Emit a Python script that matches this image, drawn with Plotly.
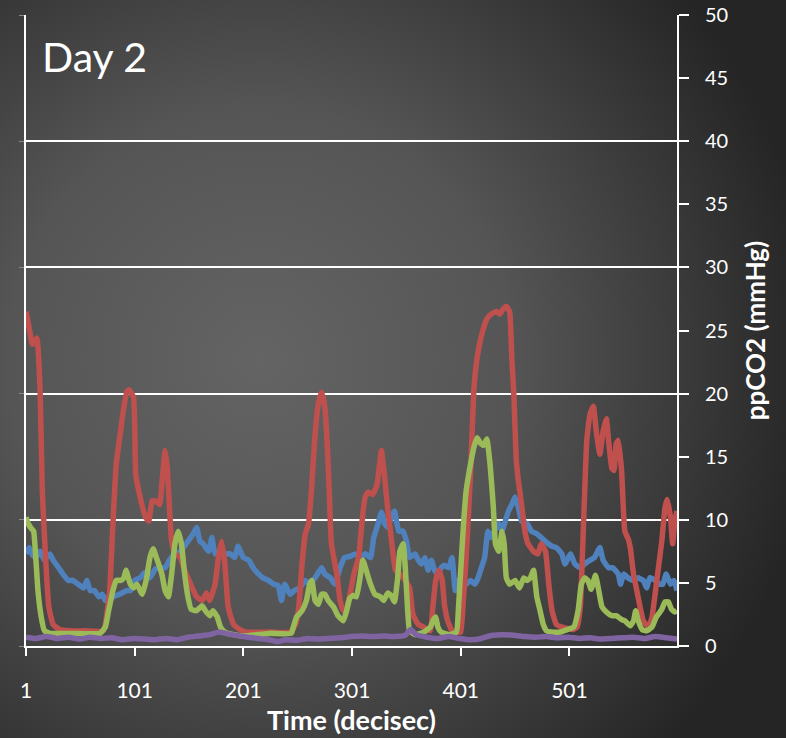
import plotly.graph_objects as go

# ---- data ----
red_t = [1,5,7,11,14,16,19,22,26,32,41,55,72,74,78,81,84,88,91,94,96,100,102,106,111,114,117,120,124,126,129,131,133,135,138,143,146,150,155,158,163,167,170,175,178,181,184,187,192,198,204,225,244,249,252,255,258,261,264,267,270,273,276,278,280,282,287,290,293,296,300,303,307,310,313,316,320,324,327,328,331,334,337,341,345,350,354,357,362,367,373,375,378,381,384,386,389,393,397,401,403,406,410,413,416,419,422,425,429,434,437,440,443,446,448,450,452,454,457,460,463,468,472,475,479,482,485,489,494,499,504,508,511,514,517,520,523,526,529,532,535,537,540,542,544,546,549,552,555,557,560,563,566,569,574,577,581,586,589,591,594,596,598,600]
red_v = [26.5,24.7,23.9,24.4,20.2,12.3,7.0,3.1,1.7,1.3,1.2,1.2,1.2,1.7,4.4,9.7,14.4,17.0,18.9,20.2,20.3,19.7,13.6,11.8,10.2,9.9,11.5,11.5,11.2,12.8,15.5,14.1,11.0,8.3,7.3,7.0,6.2,5.4,4.4,3.9,3.6,4.2,3.6,4.9,7.0,8.3,6.5,3.1,1.7,1.3,1.1,1.1,1.1,1.7,3.1,6.5,8.9,9.7,12.8,16.8,19.2,20.1,18.9,16.3,12.3,8.1,5.7,3.6,2.8,3.0,4.5,5.8,7.0,9.7,11.8,12.2,12.0,12.8,14.9,15.5,13.4,10.7,8.6,6.0,5.7,5.2,4.6,2.5,1.7,1.5,1.2,2.8,5.2,6.0,5.2,3.3,2.0,1.2,1.1,1.1,3.1,7.0,13.6,20.2,22.8,24.2,25.2,25.9,26.3,26.5,26.3,26.7,26.9,26.5,22.8,19.7,14.9,13.1,11.2,9.1,8.1,7.5,7.3,8.1,7.5,4.9,2.8,1.7,1.5,1.4,1.3,1.5,3.1,9.7,16.3,18.4,19.0,16.8,15.2,17.0,18.0,16.3,14.1,13.9,16.0,16.3,13.9,9.1,8.5,7.8,5.7,4.4,3.1,2.0,1.5,2.3,4.9,8.3,11.0,11.6,10.2,8.1,9.9,10.7]

blue_t = [1,4,7,10,14,18,23,26,31,35,40,44,49,54,57,60,64,68,71,74,77,81,87,94,97,101,106,110,115,120,124,129,133,138,143,146,150,155,158,161,164,169,172,175,180,184,189,193,196,201,206,210,215,219,224,229,233,236,239,244,248,253,258,262,267,273,276,281,285,290,294,299,304,308,313,318,321,325,328,331,334,337,340,344,348,351,354,359,362,365,368,371,374,377,380,383,386,390,393,396,399,402,406,410,414,417,420,423,426,429,432,436,439,442,445,448,451,454,457,462,466,471,475,480,485,489,494,497,502,506,511,515,520,524,529,532,537,541,546,548,551,555,560,564,569,572,575,580,584,587,590,594,597,600]
blue_v = [7.3,7.8,7.2,7.0,7.5,6.8,7.3,6.8,6.2,5.7,5.2,5.2,4.9,4.6,5.2,4.4,4.4,3.9,4.1,3.6,3.9,3.9,4.1,4.4,4.4,5.2,5.4,5.8,5.4,6.1,6.2,6.2,6.8,7.3,7.5,7.8,8.3,8.9,9.4,8.3,8.1,7.5,8.6,7.3,7.5,7.3,7.3,7.0,7.9,7.0,6.8,6.2,5.7,5.4,5.2,4.9,4.8,3.6,4.9,4.1,4.4,4.6,5.2,4.9,5.4,6.2,5.7,5.4,4.9,6.2,7.0,7.1,7.3,7.0,7.3,7.0,8.6,9.7,10.6,9.7,9.4,10.2,10.7,9.1,9.1,8.3,7.0,7.3,6.8,6.5,7.0,6.0,6.8,6.0,5.7,6.2,6.4,6.2,7.0,4.4,5.2,4.9,4.9,5.2,4.9,5.4,6.2,7.0,9.1,8.6,9.1,9.7,9.1,9.9,10.7,11.2,11.8,11.0,9.9,9.7,9.1,8.9,8.6,8.2,7.9,7.8,7.3,6.5,7.3,6.5,6.2,6.5,6.8,7.0,7.8,6.8,6.2,6.2,5.7,4.9,5.7,5.4,5.2,5.4,5.2,4.6,5.4,5.2,4.9,4.9,5.7,4.9,5.2,4.4]

green_t = [1,3,6,8,10,12,15,18,23,45,69,74,77,81,84,88,91,93,97,100,103,108,112,115,118,121,126,129,132,135,138,141,144,147,150,153,158,163,166,170,173,177,180,184,192,201,225,245,247,250,255,259,262,264,267,270,273,276,279,284,288,293,296,299,302,305,308,311,314,318,322,327,330,334,337,340,343,345,348,350,352,354,359,367,373,376,378,380,383,391,397,399,402,404,406,410,413,416,419,422,425,428,431,433,436,439,441,443,446,451,455,459,462,465,468,471,474,477,480,486,492,499,505,509,512,515,518,521,525,528,531,535,540,544,549,552,557,560,562,564,568,572,577,581,586,589,592,595,598,600]
green_v = [10.2,9.7,9.3,9.1,7.0,4.4,2.3,1.2,1.0,1.0,1.0,1.5,2.8,4.4,5.2,5.2,5.4,6.0,4.9,4.6,4.9,4.1,5.4,7.0,7.7,7.0,5.7,4.4,3.9,5.7,8.1,9.1,8.1,5.7,3.9,2.9,2.8,3.2,2.8,2.4,2.8,2.3,1.5,1.1,0.9,0.8,1.0,1.0,1.5,2.3,2.8,3.6,4.9,5.2,3.6,3.3,4.1,4.1,3.6,3.1,2.4,2.0,2.8,3.8,4.0,3.9,5.2,6.8,6.0,4.9,4.1,3.9,3.6,4.2,4.0,3.5,5.4,7.5,8.1,6.2,3.1,1.2,0.9,1.1,1.5,2.1,2.3,1.5,1.1,0.9,1.1,3.1,7.5,10.2,12.3,14.4,15.7,16.5,16.1,15.9,16.4,14.4,11.0,8.1,7.5,9.1,8.1,5.4,4.9,5.2,4.6,5.4,5.2,5.4,6.0,3.9,2.8,1.7,1.2,1.1,1.1,1.3,1.5,2.8,4.9,5.4,5.2,4.5,5.6,4.4,3.1,2.7,2.4,2.4,2.1,2.0,1.6,2.0,2.8,2.1,1.3,1.2,1.5,2.3,2.9,3.5,3.5,2.9,2.7,2.8]

purple_t = [1,10,20,30,40,50,60,70,80,90,100,110,120,130,140,150,160,170,178,185,190,198,205,215,225,232,240,250,260,270,280,290,300,310,320,330,340,350,355,360,370,380,390,400,410,420,430,440,450,460,470,480,490,500,510,520,530,540,550,560,570,580,590,600]
purple_v = [0.7,0.6,0.75,0.6,0.7,0.55,0.7,0.6,0.65,0.5,0.6,0.55,0.5,0.6,0.5,0.7,0.8,0.9,1.1,1.0,0.9,0.8,0.7,0.6,0.5,0.35,0.5,0.45,0.6,0.55,0.6,0.65,0.75,0.8,0.75,0.8,0.75,0.85,1.3,0.9,0.7,0.6,0.75,0.6,0.5,0.6,0.85,0.9,0.85,0.75,0.7,0.75,0.65,0.7,0.6,0.65,0.55,0.6,0.65,0.7,0.6,0.75,0.65,0.55]

x_tickvals = [1, 101, 201, 301, 401, 501]
x_ticktext = ["1", "101", "201", "301", "401", "501"]

FONT = "Lato"
W, H = 786, 738
ML, MR, MT, MB = 26, 109, 15, 92
PW, PH = W - ML - MR, H - MT - MB

bg_svg = (
    "data:image/svg+xml;utf8,"
    "<svg xmlns='http://www.w3.org/2000/svg' width='786' height='738'>"
    "<defs><radialGradient id='g' cx='260' cy='360' r='560' gradientUnits='userSpaceOnUse'>"
    "<stop offset='0' stop-color='%23646464'/>"
    "<stop offset='0.45' stop-color='%23555555'/>"
    "<stop offset='1' stop-color='%23252525'/>"
    "</radialGradient></defs>"
    "<rect width='786' height='738' fill='url(%23g)'/></svg>"
)

fig = go.Figure()
series = [
    (blue_t, blue_v, "#4F81BD"),
    (red_t, red_v, "#C0504D"),
    (green_t, green_v, "#9BBB59"),
    (purple_t, purple_v, "#8064A2"),
]
for t, v, c in series:
    fig.add_trace(go.Scatter(x=t, y=v, mode="lines",
                             line=dict(color=c, width=5.5, shape="spline", smoothing=0.4),
                             showlegend=False, hoverinfo="skip"))

fig.update_layout(
    width=W, height=H,
    margin=dict(l=ML, r=MR, t=MT, b=MB, autoexpand=False),
    paper_bgcolor="#4a4a4a",
    plot_bgcolor="rgba(0,0,0,0)",
    images=[dict(source=bg_svg, xref="paper", yref="paper",
                 x=-ML / PW, y=1 + MT / PH, sizex=W / PW, sizey=H / PH,
                 sizing="stretch", xanchor="left", yanchor="top", layer="below")],
    xaxis=dict(range=[1, 600], tickvals=x_tickvals, ticktext=x_ticktext,
               automargin=False,
               showgrid=False, zeroline=False, showline=True, linecolor="white", linewidth=2,
               ticks="outside", ticklen=8, tickwidth=1.5, tickcolor="white",
               ticklabelstandoff=17,
               tickfont=dict(family=FONT, size=21, color="white"),
               title=dict(text="<b>Time (decisec)</b>", standoff=10,
                          font=dict(family=FONT, size=27, color="white"))),
    yaxis=dict(range=[0, 50], dtick=5, side="right", showgrid=False, zeroline=False,
               automargin=False,
               showline=True, linecolor="white", linewidth=2,
               ticks="outside", ticklen=10, tickwidth=1.5, tickcolor="white",
               ticklabelstandoff=12,
               tickfont=dict(family=FONT, size=20, color="white"),
               title=dict(text="<b>ppCO2 (mmHg)</b>", standoff=20,
                          font=dict(family=FONT, size=26, color="white"))),
    yaxis2=dict(range=[0, 50], dtick=10, overlaying="y", side="left",
                automargin=False,
                showgrid=True, gridcolor="white", gridwidth=2, zeroline=False,
                showline=True, linecolor="white", linewidth=2,
                ticks="outside", ticklen=5, tickcolor="#8a8a8a",
                showticklabels=False),
    annotations=[dict(text="Day 2", xref="paper", yref="paper", x=0.022, y=0.976,
                      xanchor="left", yanchor="top", showarrow=False,
                      font=dict(family=FONT, size=41, color="white"))],
)
fig.add_trace(go.Scatter(x=[1], y=[0], yaxis="y2", mode="markers",
                         marker=dict(opacity=0), showlegend=False, hoverinfo="skip"))

fig.write_html("out.html")
